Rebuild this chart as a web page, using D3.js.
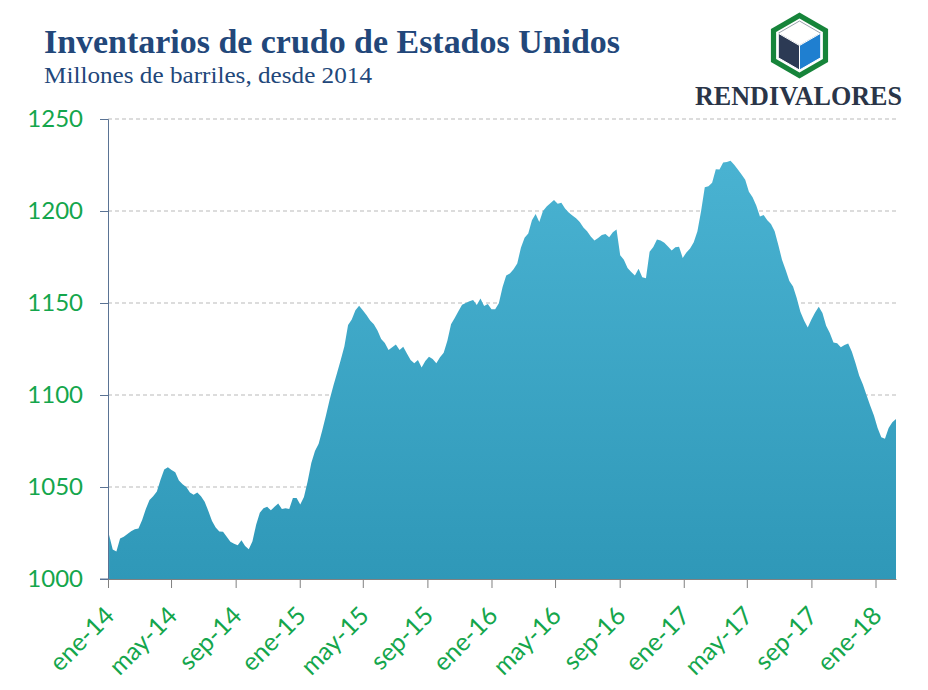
<!DOCTYPE html>
<html>
<head>
  <meta charset="utf-8">
  <script src="https://cdn.jsdelivr.net/npm/d3@7"></script>
  <style>
    body { margin: 0; background: #fff; }
    svg { display: block; }
  </style>
</head>
<body>
<script>
// weekly US crude inventories, million barrels
var startDate = new Date(2014, 0, 3);
var stocks = [
  1024, 1016, 1015, 1022, 1023, 1024.5, 1026, 1027, 1027.5, 1032,
  1038, 1043, 1045, 1047.5, 1054, 1059.5, 1060.7, 1059.2, 1058, 1053.5,
  1051.5, 1050, 1047, 1045.8, 1047, 1045, 1042, 1037, 1031.5, 1028,
  1025.8, 1025.7, 1023, 1020.3, 1019.2, 1018.3, 1021, 1018, 1016.2, 1020.5,
  1029.5, 1036, 1038.5, 1039.3, 1037.3, 1039.2, 1041, 1038, 1038.4, 1038,
  1044, 1044, 1040.5, 1044.5, 1053, 1063, 1069.5, 1073.5, 1081, 1089,
  1097.5, 1105, 1112, 1119, 1126.5, 1138, 1141, 1146, 1148.5, 1146,
  1143.5, 1140.5, 1138.5, 1135, 1130.5, 1128.3, 1124.5, 1126, 1127.5, 1124.5,
  1126.2, 1122.6, 1119, 1117.2, 1119, 1115, 1118.5, 1120.8, 1119.5, 1117.2,
  1120.5, 1123, 1129.5, 1138.5, 1141.8, 1145.5, 1149, 1150, 1151, 1151.6,
  1148.9, 1152.5, 1148.4, 1149.5, 1146.6, 1146.6, 1149.8, 1158.5, 1165, 1166,
  1168.3, 1171.5, 1180, 1185.5, 1187.8, 1195, 1198.4, 1194, 1200, 1202.5,
  1204.2, 1206, 1204, 1204.5, 1201.3, 1199.2, 1197.5, 1196, 1194, 1191,
  1189, 1186.2, 1184, 1185.3, 1187, 1187.5, 1185.7, 1188.4, 1190, 1176,
  1173.5, 1169, 1166.8, 1165, 1168.6, 1164, 1163.4, 1177.9, 1180.4, 1184.5,
  1184, 1182.7, 1180.7, 1178.6, 1180.3, 1180.6, 1174.5, 1177.5, 1179.6, 1183,
  1189, 1200, 1212.9, 1213.5, 1215.4, 1222.7, 1222.5, 1226.3, 1226.6, 1227.3,
  1225.2, 1222.5, 1219.9, 1217, 1210.5, 1207.5, 1203, 1197, 1197.8, 1195,
  1193, 1189, 1181.5, 1173.5, 1168, 1162, 1159, 1152.7, 1145.2, 1140.5,
  1136.7, 1141, 1144.8, 1148, 1144.5, 1137.7, 1133.7, 1128.5, 1128.1, 1126,
  1127.2, 1128, 1123.5, 1117.2, 1110.5, 1105.7, 1099.8, 1094.2, 1088.8, 1082,
  1077, 1076.2, 1082, 1085.2, 1087
];
var monthsEs = ["ene", "feb", "mar", "abr", "may", "jun", "jul", "ago", "sep", "oct", "nov", "dic"];
var yTicks = [1000, 1050, 1100, 1150, 1200, 1250];

var data = stocks.map(function (v, i) {
  return {date: d3.timeDay.offset(startDate, 7 * i), value: v};
});

var width = 928, height = 690;
var margin = {top: 119, right: 32, bottom: 111, left: 108};

var svg = d3.select("body").append("svg")
  .attr("width", width)
  .attr("height", height);

var x = d3.scaleTime()
  .domain([new Date(2014, 0, 1), data[data.length - 1].date])
  .range([margin.left, width - margin.right]);

var y = d3.scaleLinear()
  .domain([1000, 1250])
  .range([height - margin.bottom, margin.top]);

var grad = svg.append("defs").append("linearGradient")
  .attr("id", "areaFill")
  .attr("gradientUnits", "userSpaceOnUse")
  .attr("x1", 0).attr("y1", y(1250))
  .attr("x2", 0).attr("y2", y(1000));
grad.append("stop").attr("offset", "0%").attr("stop-color", "#4cb5d4");
grad.append("stop").attr("offset", "100%").attr("stop-color", "#2f98b8");

// dashed gridlines
svg.append("g")
  .selectAll("line")
  .data(yTicks.slice(1))
  .enter().append("line")
    .attr("x1", margin.left)
    .attr("x2", width - margin.right)
    .attr("y1", function (d) { return y(d); })
    .attr("y2", function (d) { return y(d); })
    .attr("stroke", "#b9b9b9")
    .attr("stroke-dasharray", "4,3");

var area = d3.area()
  .x(function (d) { return x(d.date); })
  .y0(y(1000))
  .y1(function (d) { return y(d.value); });

svg.append("path")
  .datum(data)
  .attr("d", area)
  .attr("fill", "url(#areaFill)");

// y axis
var yAxis = svg.append("g")
  .attr("transform", "translate(" + margin.left + ",0)")
  .call(d3.axisLeft(y).tickValues(yTicks).tickSize(8).tickPadding(17).tickFormat(d3.format("d")));
yAxis.select(".domain").attr("stroke", "#5a7394");
yAxis.selectAll(".tick line").attr("stroke", "#5a7394");
yAxis.selectAll("text")
  .attr("fill", "#14a64c")
  .style("font-family", "Lato, 'Open Sans', sans-serif")
  .style("font-size", "24px");

// x axis
var xTickDates = d3.timeMonth.every(4).range(new Date(2014, 0, 1), new Date(2018, 1, 1));
var xAxis = svg.append("g")
  .attr("transform", "translate(0," + y(1000) + ")")
  .call(d3.axisBottom(x).tickValues(xTickDates).tickSize(9).tickSizeOuter(0)
    .tickFormat(function (d) {
      return monthsEs[d.getMonth()] + "-" + String(d.getFullYear()).slice(2);
    }));
xAxis.select(".domain").attr("stroke", "#808080");
xAxis.selectAll(".tick line").attr("stroke", "#808080");
xAxis.selectAll("text")
  .attr("fill", "#14a64c")
  .style("font-family", "Lato, 'Open Sans', sans-serif")
  .style("font-size", "25px")
  .attr("text-anchor", "end")
  .attr("y", 0)
  .attr("dy", "0.35em")
  .attr("transform", "translate(1,32) rotate(-45)");

// left stub of the x axis line to the y tick
svg.append("line")
  .attr("x1", margin.left - 8).attr("x2", margin.left)
  .attr("y1", y(1000)).attr("y2", y(1000))
  .attr("stroke", "#5a7394");

// titles
svg.append("text")
  .attr("x", 44).attr("y", 53)
  .attr("textLength", 576)
  .attr("lengthAdjust", "spacingAndGlyphs")
  .style("font-family", "'Liberation Serif', 'DejaVu Serif', serif")
  .style("font-weight", "bold")
  .style("font-size", "33px")
  .attr("fill", "#22477a")
  .text("Inventarios de crudo de Estados Unidos");

svg.append("text")
  .attr("x", 44).attr("y", 83)
  .attr("textLength", 328)
  .attr("lengthAdjust", "spacingAndGlyphs")
  .style("font-family", "'Liberation Serif', 'DejaVu Serif', serif")
  .style("font-size", "24px")
  .attr("fill", "#22477a")
  .text("Millones de barriles, desde 2014");

// logo
var logo = svg.append("g").attr("transform", "translate(799.5,45.5)");
function hex(r) {
  return d3.range(6).map(function (i) {
    var a = (-90 + 60 * i) * Math.PI / 180;
    return [r * Math.cos(a), r * Math.sin(a)];
  });
}
var line = d3.line().curve(d3.curveLinearClosed);
logo.append("path").attr("d", line(hex(33))).attr("fill", "#16843a");
logo.append("path").attr("d", line(hex(27))).attr("fill", "#ffffff");
var c = hex(24.5);
logo.append("path").attr("d", line([c[0], c[1], [0, 0], c[5]]))
  .attr("fill", "#ffffff").attr("stroke", "#9aa3ad").attr("stroke-width", 1);
logo.append("path").attr("d", line([c[5], [0, 0], c[3], c[4]]))
  .attr("fill", "#2c3a54").attr("stroke", "#ffffff").attr("stroke-width", 1);
logo.append("path").attr("d", line([[0, 0], c[1], c[2], c[3]]))
  .attr("fill", "#1f7fd0").attr("stroke", "#ffffff").attr("stroke-width", 1);

svg.append("text")
  .attr("x", 695).attr("y", 105)
  .attr("textLength", 207)
  .attr("lengthAdjust", "spacingAndGlyphs")
  .style("font-family", "'Liberation Serif', serif")
  .style("font-weight", "bold")
  .style("font-size", "28px")
  .attr("fill", "#2a3548")
  .text("RENDIVALORES");
</script>
</body>
</html>
